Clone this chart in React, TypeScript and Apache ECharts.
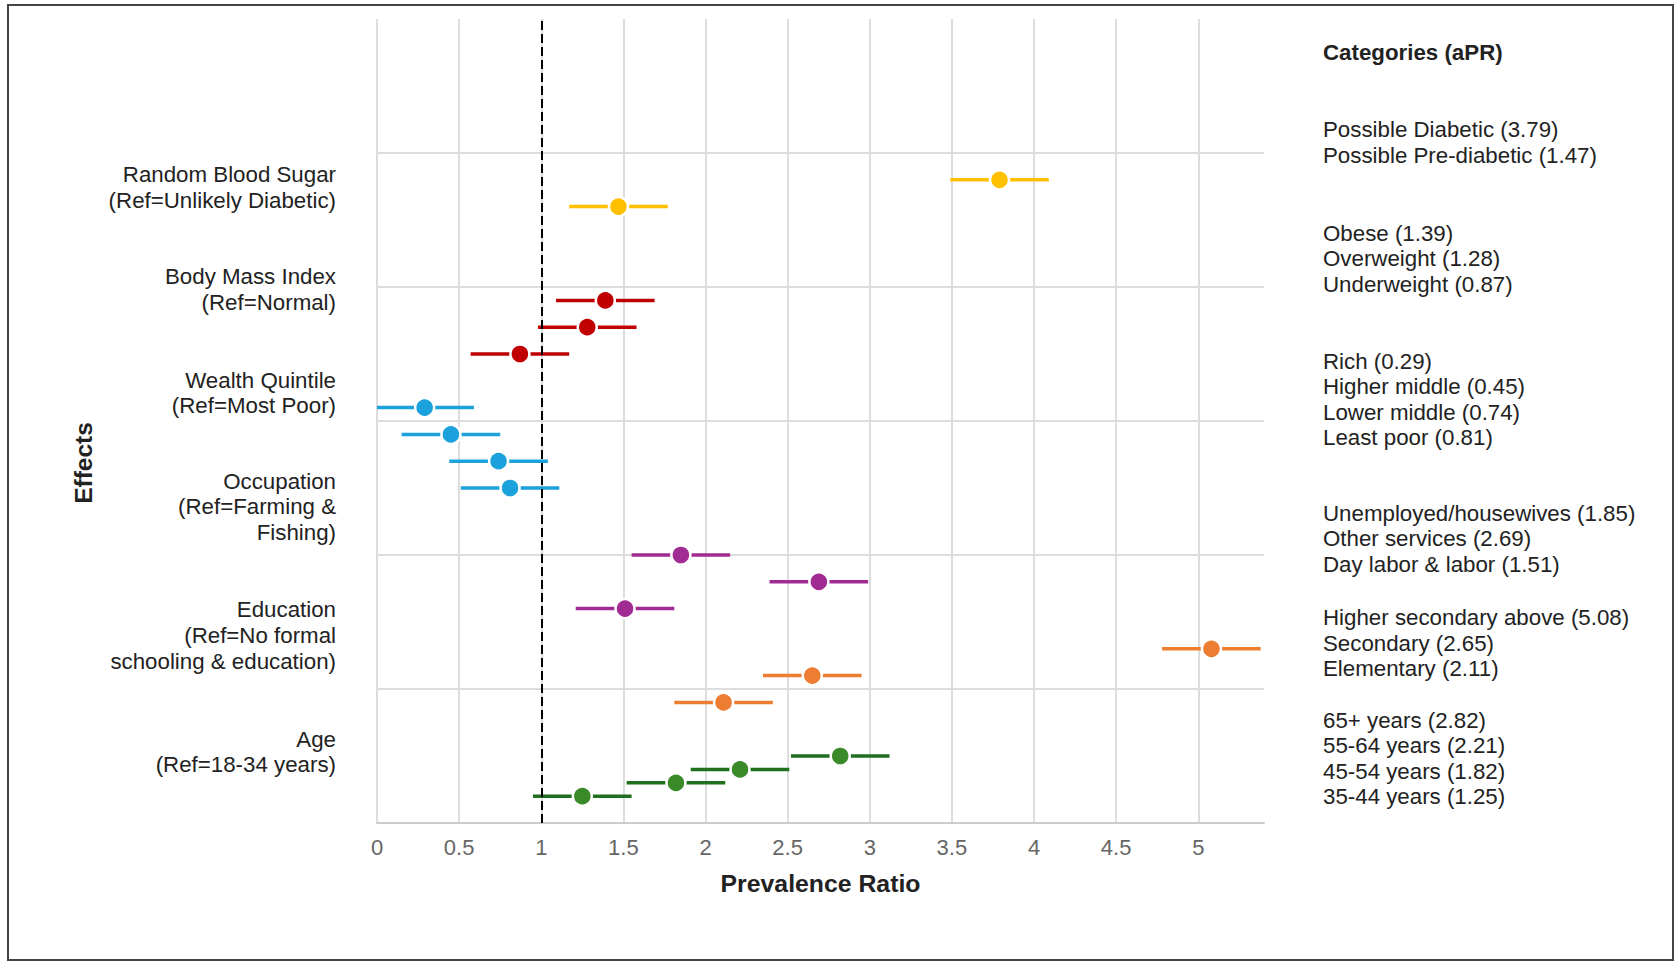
import React, { useEffect, useRef } from "react";
import * as echarts from "echarts";

// ---------- data ----------
const groupLabels = [
  "Random Blood Sugar\n(Ref=Unlikely Diabetic)",
  "Body Mass Index\n(Ref=Normal)",
  "Wealth Quintile\n(Ref=Most Poor)",
  "Occupation\n(Ref=Farming &\nFishing)",
  "Education\n(Ref=No formal\nschooling & education)",
  "Age\n(Ref=18-34 years)",
];
const groupLabelPos = [4.74, 3.98, 3.21, 2.36, 1.4, 0.53];
const legendPos = [5.08, 4.21, 3.16, 2.12, 1.34, 0.48];

const categories = [
  ["Possible Diabetic", "Possible Pre-diabetic"],
  ["Obese", "Overweight", "Underweight"],
  ["Rich", "Higher middle", "Lower middle", "Least poor"],
  ["Unemployed/housewives", "Other services", "Day labor & labor"],
  ["Higher secondary above", "Secondary", "Elementary"],
  ["65+ years", "55-64 years", "45-54 years", "35-44 years"],
];
const aPR = [
  [3.79, 1.47],
  [1.39, 1.28, 0.87],
  [0.29, 0.45, 0.74, 0.81],
  [1.85, 2.69, 1.51],
  [5.08, 2.65, 2.11],
  [2.82, 2.21, 1.82, 1.25],
];
const ciLow = [
  [3.49, 1.17],
  [1.09, 0.98, 0.57],
  [0.0, 0.15, 0.44, 0.51],
  [1.55, 2.39, 1.21],
  [4.78, 2.35, 1.81],
  [2.52, 1.91, 1.52, 0.95],
];
const ciHigh = [
  [4.09, 1.77],
  [1.69, 1.58, 1.17],
  [0.59, 0.75, 1.04, 1.11],
  [2.15, 2.99, 1.81],
  [5.38, 2.95, 2.41],
  [3.12, 2.51, 2.12, 1.55],
];
const rowPos = [
  [4.8, 4.6],
  [3.9, 3.7, 3.5],
  [3.1, 2.9, 2.7, 2.5],
  [2.0, 1.8, 1.6],
  [1.3, 1.1, 0.9],
  [0.5, 0.4, 0.3, 0.2],
];
const dotColors = ["#FFC000", "#C00000", "#1BA1DB", "#A02B93", "#ED7D31", "#3B8A2A"];
const lineColors = ["#FFC000", "#C00000", "#1BA1DB", "#A02B93", "#ED7D31", "#1F6F1F"];
const refLine = 1;
const xMin = 0;
const xMax = 5.4;
const xInterval = 0.5;

const FONT = "'Liberation Sans', Arial, Helvetica, sans-serif";

function findIndex(arr: number[], v: number) {
  for (let i = 0; i < arr.length; i++) if (Math.abs(arr[i] - v) < 1e-6) return i;
  return -1;
}

export default function App() {
  const ref = useRef<HTMLDivElement>(null);
  useEffect(() => {
    if (!ref.current) return;
    const chart = echarts.init(ref.current, undefined, { renderer: "svg" });

    const series: any[] = [];
    categories.forEach((names, g) => {
      series.push({
        type: "custom",
        name: "ci" + g,
        z: 2,
        silent: true,
        encode: { x: [0, 1], y: 2 },
        data: names.map((_, i) => [ciLow[g][i], ciHigh[g][i], rowPos[g][i]]),
        renderItem: (params: any, api: any) => {
          const p1 = api.coord([api.value(0), api.value(2)]);
          const p2 = api.coord([api.value(1), api.value(2)]);
          return {
            type: "line",
            shape: { x1: p1[0], y1: p1[1], x2: p2[0], y2: p2[1] },
            style: { stroke: lineColors[g], lineWidth: 3.5 },
          };
        },
      });
    });
    categories.forEach((names, g) => {
      series.push({
        type: "scatter",
        name: "pt" + g,
        z: 3,
        symbol: "circle",
        symbolSize: 19,
        itemStyle: { color: dotColors[g], borderColor: "#ffffff", borderWidth: 2.5, opacity: 1 },
        data: names.map((_, i) => [aPR[g][i], rowPos[g][i]]),
      });
    });
    series.push({
      type: "scatter",
      name: "ref",
      z: 5,
      symbolSize: 0,
      silent: true,
      data: [[refLine, 0]],
      markLine: {
        symbol: "none",
        silent: true,
        label: { show: false },
        lineStyle: { type: [9, 4], color: "#000000", width: 2 },
        data: [{ xAxis: refLine }],
      },
    });

    chart.setOption({
      animation: false,
      backgroundColor: "#ffffff",
      textStyle: { fontFamily: FONT },
      title: {
        text: "Categories (aPR)",
        left: 1323,
        top: 41,
        padding: 0,
        textStyle: { fontFamily: FONT, fontSize: 22.3, fontWeight: "bold", color: "#222222" },
      },
      grid: { left: 377, top: 19, width: 887, height: 804, containLabel: false },
      xAxis: {
        type: "value",
        min: xMin,
        max: xMax,
        interval: xInterval,
        name: "Prevalence Ratio",
        nameLocation: "middle",
        nameGap: 48,
        nameTextStyle: { fontFamily: FONT, fontSize: 24.8, fontWeight: "bold", color: "#222222" },
        axisLine: { show: true, lineStyle: { color: "#CCCCCC", width: 2 } },
        axisTick: { show: false },
        axisLabel: {
          fontSize: 22,
          color: "#666666",
          margin: 13,
          showMaxLabel: false,
          formatter: (v: number) => String(v),
        },
        splitLine: { show: true, showMaxLine: false, lineStyle: { color: "#DDDDDD", width: 2 } },
      },
      yAxis: [
        {
          type: "value",
          min: 0,
          max: 6,
          interval: 1,
          axisLine: { show: false },
          axisTick: { show: false },
          splitLine: { show: true, showMaxLine: false, lineStyle: { color: "#DDDDDD", width: 2 } },
          axisLabel: {
            customValues: groupLabelPos,
            fontSize: 22.3,
            lineHeight: 25.7,
            color: "#222222",
            margin: 41,
            align: "right",
            formatter: (v: number) => {
              const i = findIndex(groupLabelPos, v);
              return i >= 0 ? groupLabels[i] : "";
            },
          },
        },
        {
          type: "value",
          position: "right",
          min: 0,
          max: 6,
          interval: 1,
          axisLine: { show: false },
          axisTick: { show: false },
          splitLine: { show: false },
          axisLabel: {
            customValues: legendPos,
            fontSize: 22.3,
            lineHeight: 25.5,
            color: "#222222",
            margin: 59,
            align: "left",
            formatter: (v: number) => {
              const i = findIndex(legendPos, v);
              if (i < 0) return "";
              return categories[i].map((n, k) => `${n} (${aPR[i][k].toFixed(2)})`).join("\n");
            },
          },
        },
      ],
      graphic: [
        {
          type: "rect",
          silent: true,
          shape: { x: 8, y: 5, width: 1665, height: 955 },
          style: { fill: "none", stroke: "#444444", lineWidth: 2 },
        },
        {
          type: "text",
          silent: true,
          x: 83,
          y: 463,
          rotation: Math.PI / 2,
          style: {
            text: "Effects",
            font: `bold 24.5px ${FONT}`,
            fill: "#222222",
            align: "center",
            verticalAlign: "middle",
          },
        },
      ],
      series,
    });
    return () => chart.dispose();
  }, []);
  return (
    <div
      ref={ref}
      style={{ position: "absolute", left: 0, top: 0, width: 1680, height: 961, background: "#fff" }}
    />
  );
}
